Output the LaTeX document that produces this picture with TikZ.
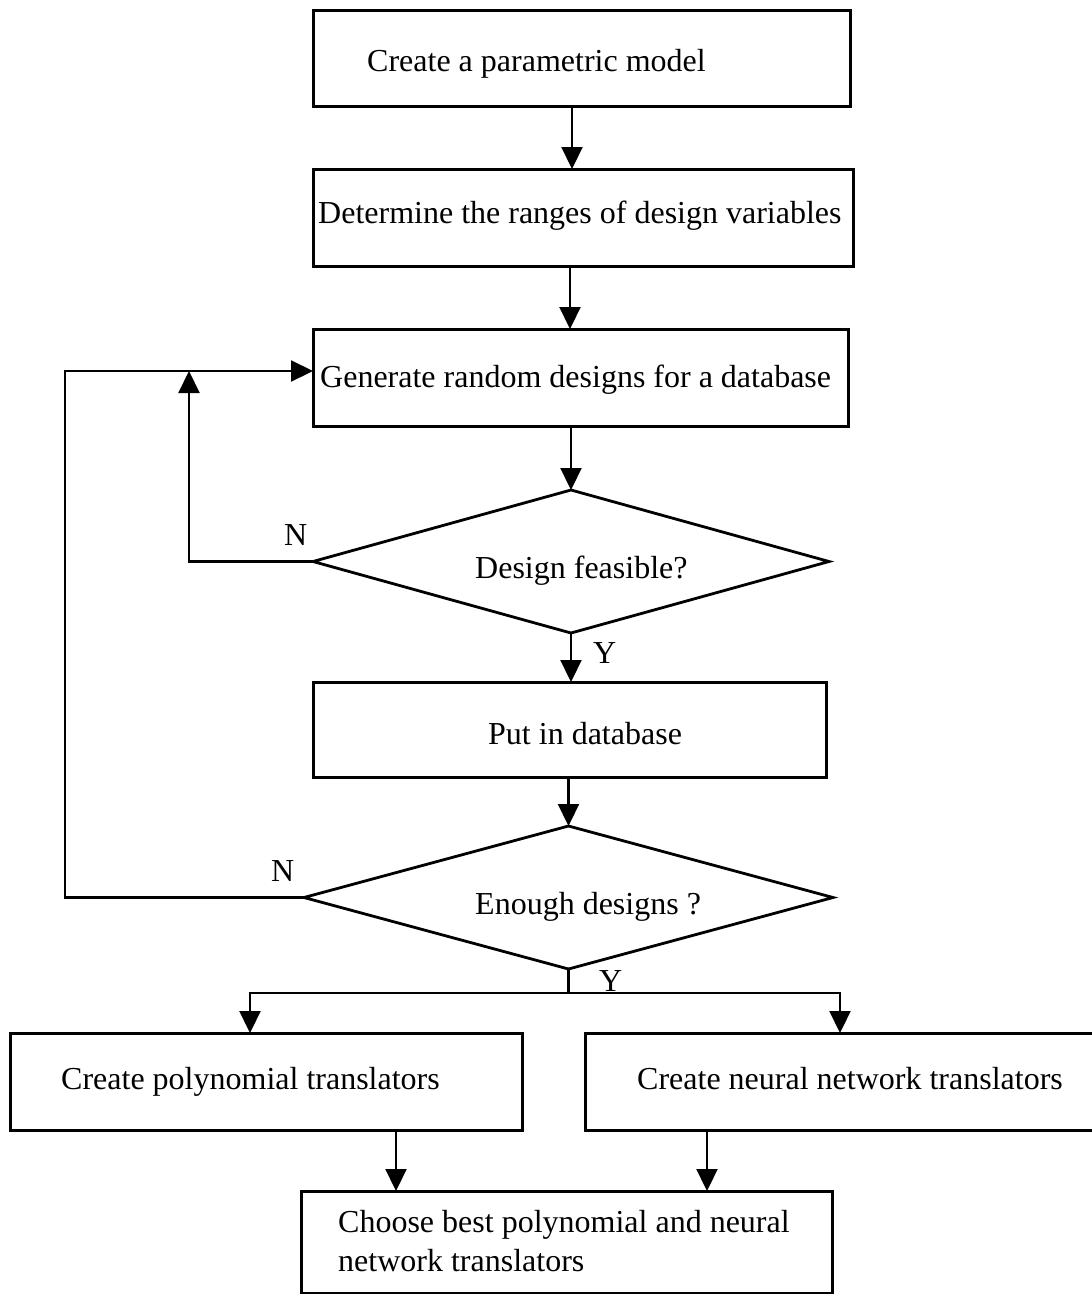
\documentclass[tikz,border=0pt]{standalone}
\usepackage{fontspec}
\setmainfont{Liberation Serif}
\usetikzlibrary{arrows.meta,shapes.geometric}
\begin{document}
\begin{tikzpicture}[x=1pt,y=-1pt,
  box/.style={draw, rectangle, line width=3pt, inner sep=0pt, outer sep=0pt},
  decision/.style={draw, diamond, line width=2.8pt, inner sep=0pt, outer sep=0pt},
  txt/.style={anchor=base west, inner sep=0pt, font=\fontsize{32pt}{38pt}\selectfont},
  flow/.style={line width=2.2pt},
  arr/.style={flow, -{Triangle[length=22pt,width=21pt]}},
]
\useasboundingbox (0,0) rectangle (1092,1294);

% process boxes and decisions
\node[box, minimum width=537pt, minimum height=96pt] (B1) at (581.5,58) {};
\node[box, minimum width=540pt, minimum height=97pt] (B2) at (583,217.5) {};
\node[box, minimum width=535pt, minimum height=97pt] (B3) at (580.5,377.5) {};
\node[decision, minimum width=516pt, minimum height=143pt] (D1) at (571,561.5) {};
\node[box, minimum width=513pt, minimum height=95pt] (B4) at (569.5,729.5) {};
\node[decision, minimum width=529pt, minimum height=143pt] (D2) at (568.5,897.5) {};
\node[box, minimum width=512pt, minimum height=97pt] (B5) at (266,1081.5) {};
\node[box, minimum width=515pt, minimum height=97pt] (B6) at (842.5,1081.5) {};
\node[box, minimum width=531pt, minimum height=102pt] (B7) at (566.5,1242) {};

% texts
\node[txt] (T1) at (367,71) {Create a parametric model};
\node[txt] (T2) at (318,223) {Determine the ranges of design variables};
\node[txt] (T3) at (320,387) {Generate random designs for a database};
\node[txt] (TD1) at (475,578) {Design feasible?};
\node[txt] (T4) at (488,744) {Put in database};
\node[txt] (TD2) at (475,914) {Enough designs ?};
\node[txt] (T5) at (61,1089) {Create polynomial translators};
\node[txt] (T6) at (637,1089) {Create neural network translators};
\node[txt] (T7a) at (338,1232) {Choose best polynomial and neural};
\node[txt] (T7b) at (338,1271) {network translators};

% branch labels
\node[txt] (N1) at (284,545) {N};
\node[txt] (Y1) at (593,663) {Y};
\node[txt] (N2) at (271,881) {N};
\node[txt] (Y2) at (599,991) {Y};

% routing points
\coordinate (x1) at (572,0);
\coordinate (x2) at (570,0);
\coordinate (loop) at (65,371);
\coordinate (loopin) at (189,371);
\coordinate (split) at (568.5,993);
\coordinate (bl) at (250,993);
\coordinate (br) at (840,993);
\coordinate (xl) at (396,0);
\coordinate (xr) at (707,0);

% main flow
\draw[arr] (B1.south -| x1) -- (B2.north -| x1);
\draw[arr] (B2.south -| x2) -- (B3.north -| x2);
\draw[arr] (B3.south -| D1.north) -- (D1.north);
\draw[arr] (D1.south) -- (D1.south |- B4.north);
\draw[arr] (B4.south -| D2.north) -- (D2.north);

% loops back to the generator
\draw[arr] (D1.west) -| (loopin);
\draw[arr] (D2.west) -| (loop) -- (loop -| B3.west);

% split into the two translator branches
\draw[flow] (D2.south) -- (split);
\draw[arr] (split) -- (bl) -- (bl |- B5.north);
\draw[arr] (split) -- (br) -- (br |- B6.north);

% merge into the final choice
\draw[arr] (B5.south -| xl) -- (B7.north -| xl);
\draw[arr] (B6.south -| xr) -- (B7.north -| xr);
\end{tikzpicture}
\end{document}
